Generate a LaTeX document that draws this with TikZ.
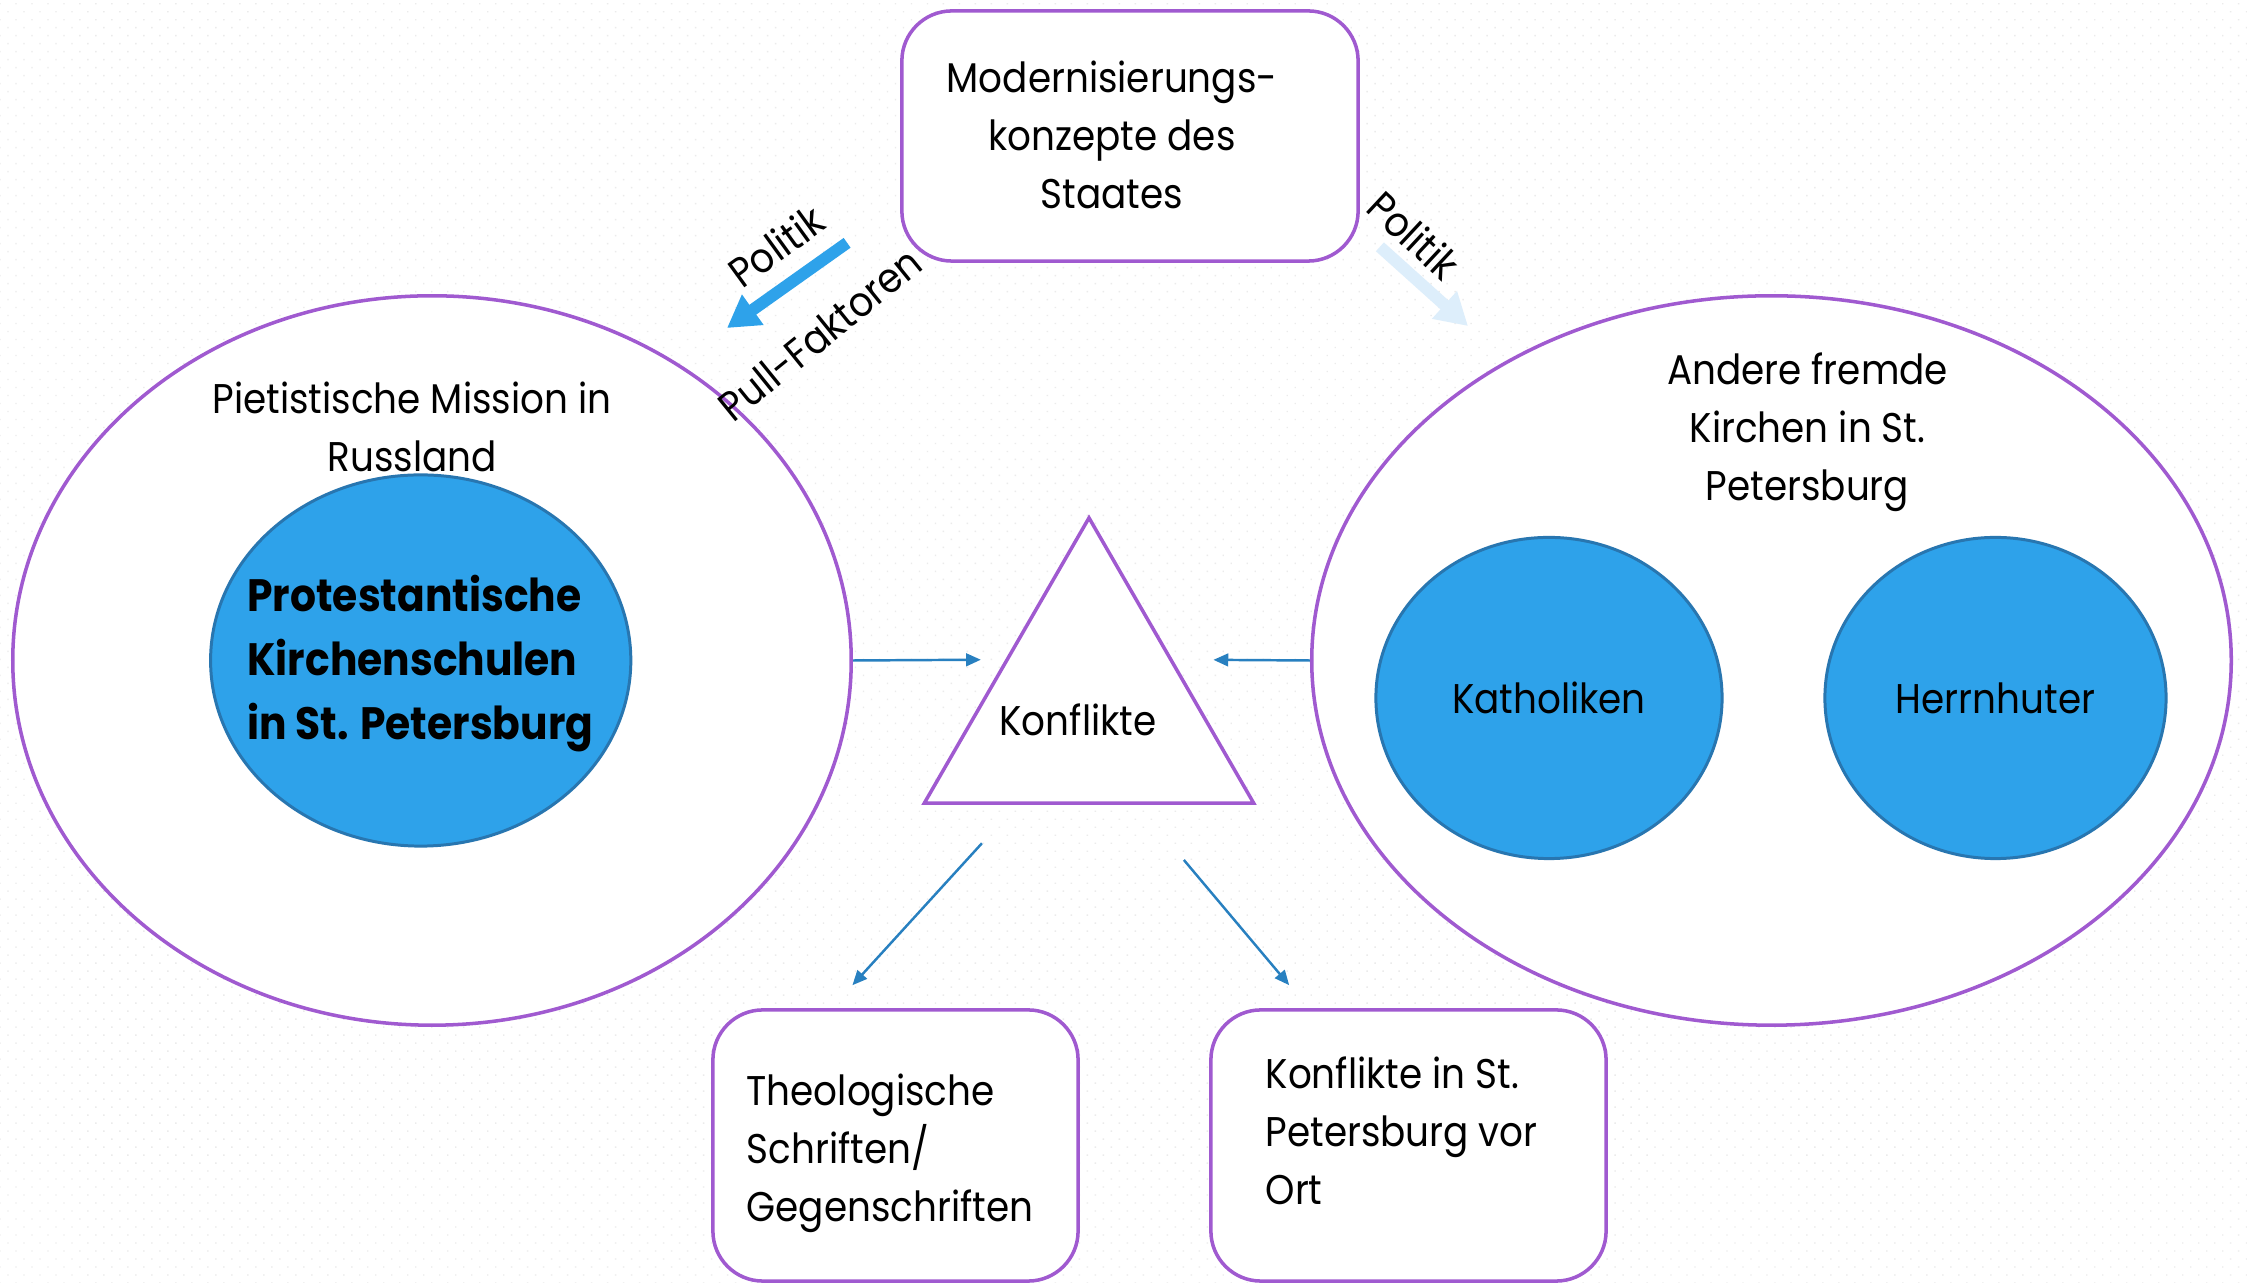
\documentclass[tikz,border=0pt]{standalone}
\usepackage{fontspec}
\setmainfont[FakeStretch=0.9]{Poppins}
\usepackage{tikz}
\usetikzlibrary{arrows.meta, shapes.geometric, patterns.meta}
\definecolor{mauve}{RGB}{160,90,208}
\definecolor{skyfill}{RGB}{46,162,234}
\definecolor{skyline}{RGB}{40,118,176}
\definecolor{linkblue}{RGB}{40,128,192}
\definecolor{paleblue}{RGB}{221,238,251}

\begin{document}
\begin{tikzpicture}[x=0.01cm, y=-0.01cm,
  bigoval/.style={ellipse, draw=mauve, line width=1pt, fill=white, inner sep=0pt},
  bluoval/.style={ellipse, draw=skyline, line width=0.85pt, fill=skyfill, inner sep=0pt},
  roundbox/.style={draw=mauve, line width=1pt, fill=white, rounded corners=0.5cm, inner sep=0pt},
  txt/.style={font=\fontsize{11.8}{16.5}\selectfont, align=center, inner sep=0pt},
  boldtxt/.style={font=\fontsize{12.9}{18.2}\selectfont\bfseries, align=left, inner sep=0pt},
  link/.style={draw=linkblue, line width=0.7pt, -{Triangle[length=4.2pt, width=3.6pt]}},
  fatarrow/.style={line width=3.4pt, -{Triangle[length=9pt, width=10pt]}}]
\useasboundingbox (0,0) rectangle (2247,1283);
\fill[white] (0,0) rectangle (2247,1283);
\fill[pattern={Dots[distance=0.113cm, radius=0.01cm, angle=45]}, pattern color=gray!16] (0,0) rectangle (2247,1283);

% big groups
\node[bigoval, minimum width=8.38cm, minimum height=7.29cm] (pietism) at (432,660.5) {};
\node[bigoval, minimum width=9.19cm, minimum height=7.29cm] (andere) at (1771.5,660.5) {};
\node[txt] (pietismtxt) at (412,427) {Pietistische Mission in\\Russland};
\node[txt] (anderetxt) at (1807.5,432) {Andere fremde\\Kirchen in St.\\Petersburg};

% inner ovals
\node[bluoval, minimum width=4.2cm, minimum height=3.71cm] (schulen) at (420.7,660.5) {};
\node[boldtxt, anchor=west] (schulentxt) at (246.7,663.5) {Protestantische\\Kirchenschulen\\in St. Petersburg};
\node[bluoval, txt, minimum width=3.46cm, minimum height=3.21cm] (katholiken) at (1549,698) {Katholiken};
\node[bluoval, txt, minimum width=3.41cm, minimum height=3.21cm] (herrnhuter) at (1995.5,698) {Herrnhuter};

% conflict triangle
\node[regular polygon, regular polygon sides=3, draw=mauve, line width=1pt, fill=white,
  minimum size=3.8cm, inner sep=0pt] (konflikt) at (1089,708) {};
\node[txt] (konflikttxt) at (1078,719.5) {Konflikte};

% boxes
\node[roundbox, minimum width=4.56cm, minimum height=2.5cm] (staat) at (1130,136) {};
\node[txt] (staattxt) at (1112,134.5) {Modernisierungs-\\konzepte des\\Staates};
\node[roundbox, minimum width=3.65cm, minimum height=2.71cm] (theo) at (895.5,1145.5) {};
\node[txt, anchor=west, align=left] (theotxt) at (746,1153.5) {Theologische\\Schriften/\\Gegenschriften};
\node[roundbox, minimum width=3.95cm, minimum height=2.71cm] (konfort) at (1408.5,1145.5) {};
\node[txt, anchor=west, align=left] (konforttxt) at (1265,1131) {Konflikte in St.\\Petersburg vor\\Ort};

% connectors
\draw[link, shorten >=0.243cm] (pietism.east) -- (konflikt.side 1);
\draw[link, shorten >=0.406cm] (andere.west) -- (konflikt.side 3);
\draw[link, shorten <=0.52cm, shorten >=0.31cm] ([shift={(-72,0)}]konflikt.south) -- ([shift={(-64,0)}]theo.north);
\draw[link, shorten <=0.72cm, shorten >=0.30cm] ([shift={(48.5,0)}]konflikt.south) -- ([shift={(-100,0)}]konfort.north);
\draw[fatarrow, skyfill] ([shift={(-53,-20)}]staat.south west) -- ([shift={(295,34)}]pietism.north);
\draw[fatarrow, paleblue] ([shift={(20,-16)}]staat.south east) -- ([shift={(-303.5,32)}]andere.north);

% arrow labels
\node[txt, rotate=36] (politikl) at (776,246) {Politik};
\node[txt, rotate=39] (pull) at (820,334) {Pull-Faktoren};
\node[txt, rotate=-43] (politikr) at (1414,235) {Politik};
\end{tikzpicture}
\end{document}
